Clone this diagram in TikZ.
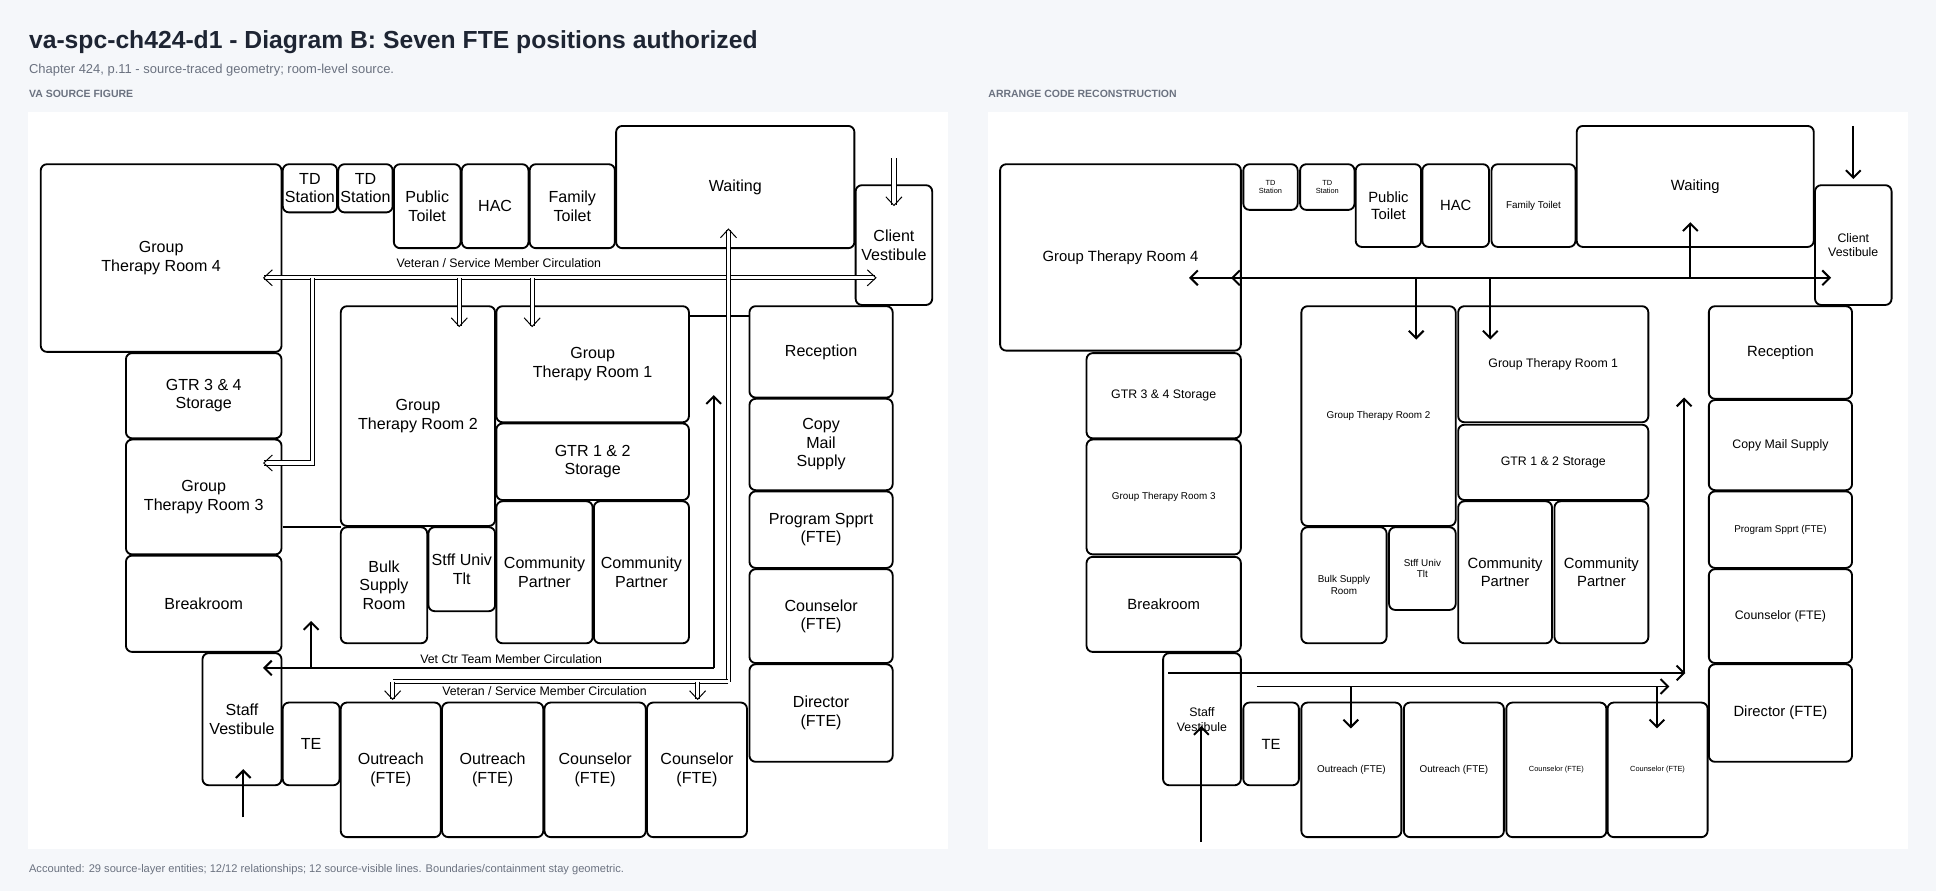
\documentclass[tikz,border=0pt]{standalone}
\usepackage{fontspec}
\setmainfont{Liberation Sans}
\usetikzlibrary{arrows.meta}
\definecolor{bg}{HTML}{F5F7FA}
\definecolor{ttl}{HTML}{1E2533}
\definecolor{sub}{HTML}{6B7280}
\newcommand\Rm[7]{\node[room,font=#7] (#1) at ({(#2+#4)/2},{(#3+#5)/2}) [minimum width={(#4-#2)*1pt},minimum height={(#5-#3)*1pt}] {#6};}
\begin{document}
\begin{tikzpicture}[x=1pt,y=-1pt,
 room/.style={draw,line width=1.5pt,rounded corners=5pt,fill=white,align=center,inner sep=1pt},
 dbl/.style={double,double distance=2.6pt,line width=0.8pt},
 tipo/.style={-{Straight Barb[length=7pt,width=13pt,line width=0.8pt]}},
 sar/.style={line width=1.6pt,-{Straight Barb[length=6pt,width=12pt]}},
 wall/.style={line width=1.5pt}]
\fill[bg] (0,0) rectangle (1568,722);
\useasboundingbox (0,0) rectangle (1568,722);
\fill[white] (23,91) rectangle (768,688);
\fill[white] (800,91) rectangle (1545,688);
\node[anchor=west,font=\bfseries\fontsize{20}{24}\selectfont,text=ttl] (title) at (20,34) {va-spc-ch424-d1 - Diagram B: Seven FTE positions authorized};
\node[anchor=west,font=\fontsize{10.5}{12}\selectfont,text=sub] (subt) at (20,57) {Chapter 424, p.11 - source-traced geometry; room-level source.};
\node[anchor=west,font=\bfseries\fontsize{8.5}{10}\selectfont,text=sub] (lh) at (20,76) {VA SOURCE FIGURE};
\node[anchor=west,font=\bfseries\fontsize{8.5}{10}\selectfont,text=sub] (rh) at (797,76) {ARRANGE CODE RECONSTRUCTION};
\node[anchor=west,font=\fontsize{9}{10}\selectfont,text=sub] (foot) at (20,704) {Accounted: 29 source-layer entities; 12/12 relationships; 12 source-visible lines. Boundaries/containment stay geometric.};
% ---------- LEFT ----------
\def\F{\fontsize{13}{15}\selectfont}
\draw[wall] (229,427) -- (276,427);
\draw[wall] (558,256) -- (607,256);
\Rm{a1}{33}{133}{228}{285}{Group\\Therapy Room 4}{\F}
\Rm{a2}{229}{133}{273}{172}{TD\\Station}{\F}
\Rm{a3}{274}{133}{318}{172}{TD\\Station}{\F}
\Rm{a4}{319}{133}{373}{201}{Public\\Toilet}{\F}
\Rm{a5}{374}{133}{428}{201}{HAC}{\F}
\Rm{a6}{429}{133}{498}{201}{Family\\Toilet}{\F}
\Rm{a7}{499}{102}{692}{201}{Waiting}{\F}
\Rm{a8}{693}{150}{755}{247}{Client\\Vestibule}{\F}
\Rm{a9}{102}{286}{228}{355}{GTR 3 \& 4\\Storage}{\F}
\Rm{a10}{102}{356}{228}{449}{Group\\Therapy Room 3}{\F}
\Rm{a11}{102}{450}{228}{528}{Breakroom}{\F}
\Rm{a12}{164}{529}{228}{636}{Staff\\Vestibule}{\F}
\Rm{a13}{229}{569}{275}{636}{TE}{\F}
\Rm{a14}{276}{248}{401}{426}{Group\\Therapy Room 2}{\F}
\Rm{a15}{402}{248}{558}{342}{Group\\Therapy Room 1}{\F}
\Rm{a16}{402}{343}{558}{405}{GTR 1 \& 2\\Storage}{\F}
\Rm{a17}{276}{427}{346}{521}{Bulk\\Supply\\Room}{\F}
\Rm{a18}{347}{427}{401}{495}{Stff Univ\\Tlt}{\F}
\Rm{a19}{402}{406}{480}{521}{Community\\Partner}{\F}
\Rm{a20}{481}{406}{558}{521}{Community\\Partner}{\F}
\Rm{a21}{607}{248}{723}{322}{Reception}{\F}
\Rm{a22}{607}{323}{723}{397}{Copy\\Mail\\Supply}{\F}
\Rm{a23}{607}{398}{723}{460}{Program Spprt\\(FTE)}{\F}
\Rm{a24}{607}{461}{723}{537}{Counselor\\(FTE)}{\F}
\Rm{a25}{607}{538}{723}{617}{Director\\(FTE)}{\F}
\Rm{a26}{276}{569}{357}{678}{Outreach\\(FTE)}{\F}
\Rm{a27}{358}{569}{440}{678}{Outreach\\(FTE)}{\F}
\Rm{a28}{441}{569}{523}{678}{Counselor\\(FTE)}{\F}
\Rm{a29}{524}{569}{605}{678}{Counselor\\(FTE)}{\F}
% veteran circulation (double)
\coordinate (v1) at (213,225); \coordinate (v2) at (710,225);
\draw[dbl,tipo] (400,225) -- (v1);
\draw[dbl,tipo] (400,225) -- (v2);
\draw[dbl,tipo] (372,225) -- (372,265);
\draw[dbl,tipo] (431,225) -- (431,265);
\draw[dbl,tipo] (253,225) -- (253,375) -- (213,375);
\draw[dbl,tipo] (724,128) -- (724,167);
\draw[dbl,tipo] (590,552) -- (590,185);
\draw[dbl] (590,552) -- (318,552);
\draw[dbl,tipo] (318,552) -- (318,567);
\draw[dbl,tipo] (565,552) -- (565,567);
\node[font=\fontsize{10}{12}\selectfont,fill=white,inner sep=1pt] (l1) at (404,213) {Veteran / Service Member Circulation};
\node[font=\fontsize{10}{12}\selectfont,fill=white,inner sep=1pt] (l2) at (441,560) {Veteran / Service Member Circulation};
% staff circulation
\draw[sar] (578,541) -- (578,320);
\draw[sar] (578,541) -- (213,541);
\draw[sar] (252,541) -- (252,503);
\draw[sar] (197,662) -- (197,623);
\node[font=\fontsize{10}{12}\selectfont] (l3) at (414,534) {Vet Ctr Team Member Circulation};
% ---------- RIGHT ----------
\def\G{\fontsize{12}{14}\selectfont}
\def\S{\fontsize{8}{9.5}\selectfont}
\def\T{\fontsize{6}{7}\selectfont}
\def\M{\fontsize{10}{12}\selectfont}
\Rm{b1}{810}{133}{1005}{284}{Group Therapy Room 4}{\G}
\Rm{b2}{1007}{133}{1051}{170}{TD\\Station}{\T}
\Rm{b3}{1053}{133}{1097}{170}{TD\\Station}{\T}
\Rm{b4}{1098}{133}{1151}{200}{Public\\Toilet}{\G}
\Rm{b5}{1152}{133}{1206}{200}{HAC}{\G}
\Rm{b6}{1208}{133}{1276}{200}{Family Toilet}{\S}
\Rm{b7}{1277}{102}{1469}{200}{Waiting}{\G}
\Rm{b8}{1470}{150}{1532}{247}{Client\\Vestibule}{\M}
\Rm{b9}{880}{286}{1005}{355}{GTR 3 \& 4 Storage}{\M}
\Rm{b10}{880}{356}{1005}{449}{Group Therapy Room 3}{\S}
\Rm{b11}{880}{451}{1005}{528}{Breakroom}{\G}
\Rm{b12}{942}{529}{1005}{636}{Staff\\Vestibule}{\M}
\Rm{b13}{1007}{569}{1052}{636}{TE}{\G}
\Rm{b14}{1054}{248}{1179}{426}{Group Therapy Room 2}{\S}
\Rm{b15}{1181}{248}{1335}{342}{Group Therapy Room 1}{\M}
\Rm{b16}{1181}{344}{1335}{405}{GTR 1 \& 2 Storage}{\M}
\Rm{b17}{1054}{427}{1123}{521}{Bulk Supply\\Room}{\S}
\Rm{b18}{1125}{427}{1179}{494}{Stff Univ\\Tlt}{\S}
\Rm{b19}{1181}{406}{1257}{521}{Community\\Partner}{\G}
\Rm{b20}{1259}{406}{1335}{521}{Community\\Partner}{\G}
\Rm{b21}{1384}{248}{1500}{323}{Reception}{\G}
\Rm{b22}{1384}{324}{1500}{397}{Copy Mail Supply}{\M}
\Rm{b23}{1384}{398}{1500}{460}{Program Spprt (FTE)}{\S}
\Rm{b24}{1384}{461}{1500}{537}{Counselor (FTE)}{\M}
\Rm{b25}{1384}{538}{1500}{617}{Director (FTE)}{\G}
\Rm{b26}{1054}{569}{1135}{678}{Outreach (FTE)}{\S}
\Rm{b27}{1137}{569}{1218}{678}{Outreach (FTE)}{\S}
\Rm{b28}{1220}{569}{1301}{678}{Counselor (FTE)}{\T}
\Rm{b29}{1302}{569}{1383}{678}{Counselor (FTE)}{\T}
\draw[sar] (1200,225) -- (963,225);
\draw[sar] (1200,225) -- (997,225);
\draw[sar] (1200,225) -- (1483,225);
\draw[sar] (1147,225) -- (1147,275);
\draw[sar] (1207,225) -- (1207,275);
\draw[sar] (1369,225) -- (1369,180);
\draw[sar] (1501,102) -- (1501,145);
\draw[sar] (946,545) -- (1365,545);
\draw[sar] (1364,545) -- (1364,322);
\draw[sar] (1018,556) -- (1352,556);
\draw[sar] (1094,556) -- (1094,590);
\draw[sar] (1342,556) -- (1342,590);
\draw[sar] (973,682) -- (973,588);
\end{tikzpicture}
\end{document}
